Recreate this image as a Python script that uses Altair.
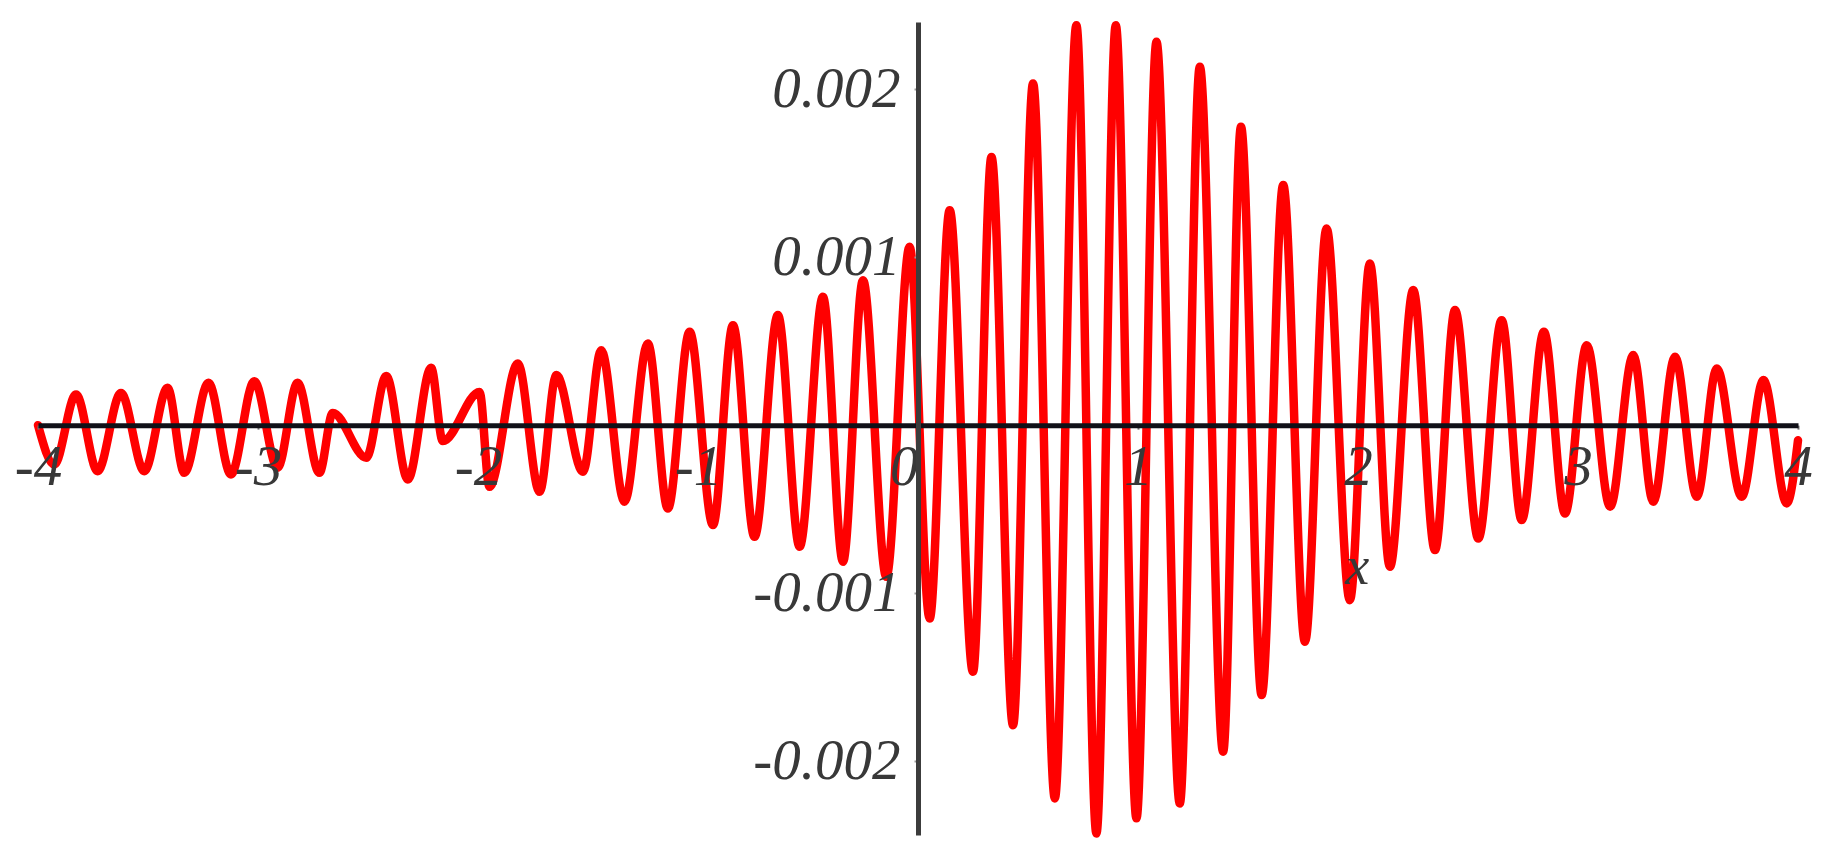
import altair as alt
import pandas as pd

# Extrema of the red curve (x, and y in units of 0.001)
x_ext = [-4.0, -3.926, -3.827, -3.729, -3.623, -3.517, -3.411, -3.335, -3.225, -3.123,
         -3.017, -2.911, -2.820, -2.721, -2.660, -2.508, -2.417, -2.319, -2.213, -2.160,
         -1.993, -1.948, -1.819, -1.720, -1.644, -1.523, -1.440, -1.334, -1.228, -1.137,
         -1.038, -0.932, -0.841, -0.743, -0.637, -0.538, -0.432, -0.341, -0.250, -0.144,
         -0.038, 0.053, 0.144, 0.250, 0.334, 0.432, 0.523, 0.622, 0.720, 0.811,
         0.899, 0.993, 1.084, 1.190, 1.281, 1.387, 1.468, 1.562, 1.660, 1.759,
         1.857, 1.963, 2.054, 2.145, 2.251, 2.350, 2.441, 2.547, 2.653, 2.744,
         2.845, 2.941, 3.040, 3.146, 3.251, 3.342, 3.441, 3.540, 3.631, 3.744,
         3.843, 3.949, 4.0]
y_ext_milli = [0.0, -0.234, 0.183, -0.274, 0.192, -0.274, 0.222, -0.284, 0.252, -0.294,
               0.262, -0.254, 0.252, -0.284, 0.073, -0.194, 0.292, -0.323, 0.341, -0.095,
               0.198, -0.367, 0.367, -0.397, 0.298, -0.278, 0.446, -0.456, 0.486, -0.496,
               0.556, -0.595, 0.595, -0.665, 0.655, -0.724, 0.764, -0.813, 0.863, -0.903,
               1.062, -1.151, 1.280, -1.468, 1.597, -1.786, 2.034, -2.222, 2.381, -2.431,
               2.381, -2.341, 2.282, -2.252, 2.133, -1.944, 1.776, -1.607, 1.429, -1.290,
               1.171, -1.042, 0.962, -0.843, 0.804, -0.744, 0.685, -0.675, 0.625, -0.565,
               0.556, -0.526, 0.476, -0.486, 0.417, -0.456, 0.407, -0.427, 0.337, -0.427,
               0.268, -0.466, -0.09]

x_ticks = [-4, -3, -2, -1, 0, 1, 2, 3, 4]
y_ticks = [0.002, 0.001, -0.001, -0.002]
x_title = "x"

assert len(x_ext) == len(y_ext_milli)
df = pd.DataFrame({"x": x_ext, "y": [v / 1000.0 for v in y_ext_milli]})

W, H = 1760, 813
X_DOMAIN = [-4, 4]
Y_DOMAIN = [-0.00244, 0.00240]
x_axis_offset = -H * (0 - Y_DOMAIN[0]) / (Y_DOMAIN[1] - Y_DOMAIN[0])
y_axis_offset = -W * (0 - X_DOMAIN[0]) / (X_DOMAIN[1] - X_DOMAIN[0])
title_pos_x = W * (1.994 - X_DOMAIN[0]) / (X_DOMAIN[1] - X_DOMAIN[0])

FONT = "Liberation Serif"
LABEL_COLOR = "#383838"
LABEL_SIZE = 57

x_axis = alt.Axis(
    values=x_ticks,
    offset=x_axis_offset,
    title=x_title,
    titleX=title_pos_x,
    titleY=142,
    titleAlign="center",
    titleBaseline="middle",
    titleFont=FONT,
    titleFontStyle="italic",
    titleFontWeight="normal",
    titleFontSize=54,
    titleColor=LABEL_COLOR,
    labelExpr="datum.value < 0 ? '-' + format(-datum.value, 'd') : format(datum.value, 'd')",
    labelFont=FONT,
    labelFontStyle="italic",
    labelFontSize=LABEL_SIZE,
    labelColor=LABEL_COLOR,
    labelPadding=10,
    labelAlign=alt.condition("datum.value == 0", alt.value("right"), alt.value("center")),
    labelFlush=False,
    labelOverlap=False,
    domainColor="#111118",
    domainWidth=5,
    tickColor="#777777",
    tickWidth=2,
    tickSize=4,
    grid=False,
    zindex=1,
)

y_axis = alt.Axis(
    values=y_ticks,
    offset=y_axis_offset,
    title=None,
    labelExpr="datum.value < 0 ? '-' + format(-datum.value, '.3f') : format(datum.value, '.3f')",
    labelFont=FONT,
    labelFontStyle="italic",
    labelFontSize=LABEL_SIZE,
    labelColor=LABEL_COLOR,
    labelPadding=14,
    labelFlush=False,
    labelOverlap=False,
    domainColor="#3c3c3c",
    domainWidth=5,
    tickColor="#999999",
    tickWidth=2,
    tickSize=4,
    grid=False,
    zindex=1,
)

chart = (
    alt.Chart(df)
    .mark_line(color="#ff0000", strokeWidth=8.5, interpolate="monotone",
               strokeCap="round", strokeJoin="round")
    .encode(
        x=alt.X("x:Q", scale=alt.Scale(domain=X_DOMAIN, nice=False, zero=False), axis=x_axis),
        y=alt.Y("y:Q", scale=alt.Scale(domain=Y_DOMAIN, nice=False, zero=False), axis=y_axis),
    )
    .properties(
        width=W,
        height=H,
        autosize=alt.AutoSizeParams(type="none"),
        padding={"left": 30, "top": 14, "right": 24, "bottom": 10},
        background="white",
    )
    .configure_view(stroke=None)
)

chart.save("out.html", embed_options={"renderer": "svg", "actions": False})
